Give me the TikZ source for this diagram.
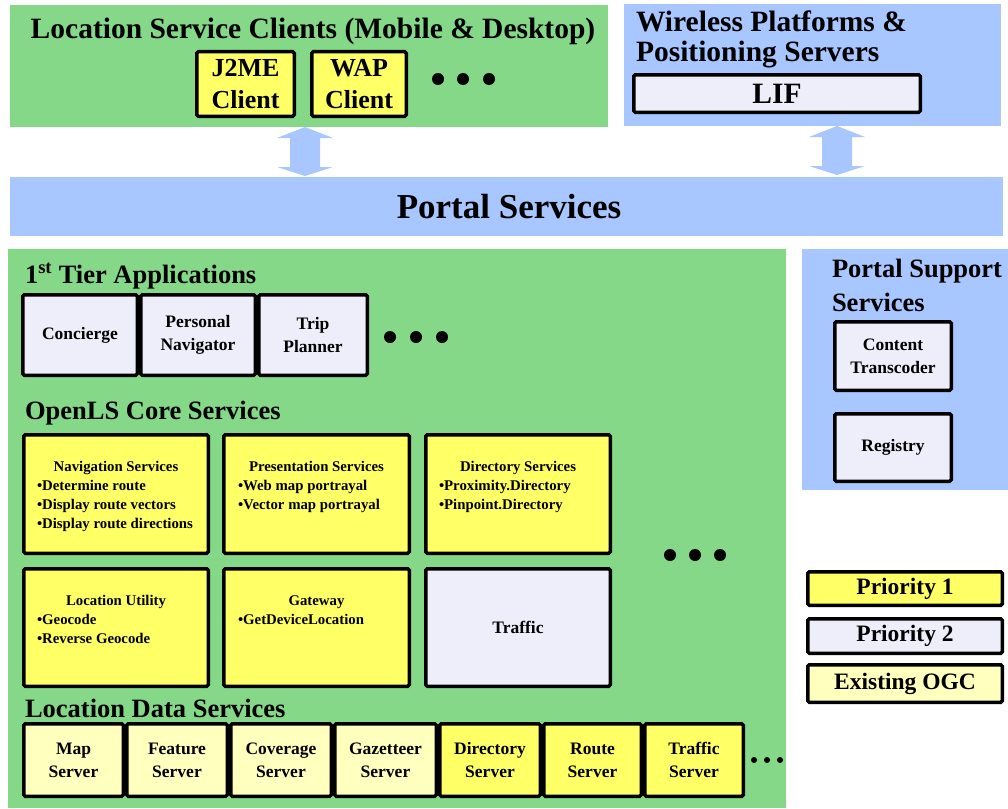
\documentclass[tikz,border=0pt]{standalone}
\usepackage{fontspec}
\setmainfont{Liberation Serif}
\definecolor{grn}{RGB}{132,216,136}
\definecolor{blu}{RGB}{168,198,255}
\definecolor{yel}{RGB}{255,255,102}
\definecolor{lav}{RGB}{238,238,250}
\definecolor{ogc}{RGB}{255,255,190}
\newcommand{\bx}[7]{\node[#1, minimum width={#4-#2-3.5}, minimum height={#5-#3-3.5}] (#6) at ({(#2+#4)/2},{(#3+#5)/2}) {#7};}
\newcommand{\dblarrow}[3]{\fill[blu] (#1,#2) -- (#1+28,#2+11) -- (#1+15,#2+11) -- (#1+15,#3-9) -- (#1+28,#3-9) -- (#1,#3) -- (#1-28,#3-9) -- (#1-15,#3-9) -- (#1-15,#2+11) -- (#1-28,#2+11) -- cycle;}
\begin{document}
\begin{tikzpicture}[x=1pt,y=-1pt,
  every node/.style={font=\bfseries, inner sep=0pt, outer sep=0pt, align=center},
  boxbase/.style={draw=black, line width=3.5pt, rounded corners=1.5pt, rectangle},
  pone/.style={boxbase, fill=yel},
  ptwo/.style={boxbase, fill=lav},
  pogc/.style={boxbase, fill=ogc},
  ftitle/.style={font=\bfseries\fontsize{29.5}{30}\selectfont},
  fhead/.style={font=\bfseries\fontsize{26.5}{33}\selectfont},
  fclient/.style={font=\bfseries\fontsize{26}{32}\selectfont},
  fbox/.style={font=\bfseries\fontsize{17.5}{23}\selectfont},
  fcore/.style={font=\bfseries\fontsize{14.8}{19}\selectfont},
  fleg/.style={font=\bfseries\fontsize{23.5}{26}\selectfont},
  dot/.style={fill=black, circle, minimum size=12pt},
  sdot/.style={fill=black, circle, minimum size=6pt},
]
\useasboundingbox (0,0) rectangle (1008,808);
% backgrounds
\fill[grn] (10,5) rectangle (608,127);
\fill[blu] (624,4) rectangle (1001,126);
\fill[blu] (10,177) rectangle (1003,236);
\fill[grn] (8,249) rectangle (786,808);
\fill[blu] (802,249) rectangle (1008,490);
% top clients
\node[ftitle, anchor=base] (clients) at (313,39) {Location Service Clients (Mobile \& Desktop)};
\bx{pone,fclient}{195}{50}{296}{118}{j2me}{J2ME\\Client}
\bx{pone,fclient}{310}{50}{408}{118}{wap}{WAP\\Client}
\node[dot] (cd1) at (438,79) {};
\node[dot] (cd2) at (463,79) {};
\node[dot] (cd3) at (489,79) {};
% wireless
\node[ftitle, anchor=base west] (wl1) at (636,32) {Wireless Platforms \&};
\node[ftitle, anchor=base west] (wl2) at (636,62) {Positioning Servers};
\bx{ptwo,ftitle}{632}{73}{922}{114}{lif}{LIF}
% arrows
\coordinate (a1t) at (305,127); \coordinate (a1b) at (305,176);
\coordinate (a2t) at (837,126); \coordinate (a2b) at (837,175);
\dblarrow{305}{127}{176}
\dblarrow{837}{126}{175}
% portal
\node[font=\bfseries\fontsize{35}{40}\selectfont] (portal) at (509,207) {Portal Services};
% tier apps
\node[fhead, anchor=base west] (tier) at (25,283) {1\textsuperscript{st} Tier Applications};
\bx{ptwo,fbox}{21}{293}{139}{377}{conc}{Concierge}
\bx{ptwo,fbox}{139}{293}{257}{377}{pnav}{Personal\\Navigator}
\bx{ptwo,fbox}{257}{293}{369}{377}{trip}{Trip\\Planner}
\node[dot] (td1) at (390,337) {};
\node[dot] (td2) at (416,337) {};
\node[dot] (td3) at (442,337) {};
% core
\node[fhead, anchor=base west] (core) at (25,419) {OpenLS Core Services};
\bx{pone}{22}{433}{210}{555}{nav}{}
\bx{pone}{222}{433}{411}{555}{pres}{}
\bx{pone}{424}{433}{612}{555}{dir}{}
\bx{pone}{22}{567}{210}{688}{locu}{}
\bx{pone}{222}{567}{411}{688}{gate}{}
\bx{ptwo,fbox}{424}{567}{612}{688}{traf}{Traffic}
\node[fcore, anchor=base] (navh) at (116,471) {Navigation Services};
\node[fcore, anchor=base west] (nav1) at (37,490) {•Determine route};
\node[fcore, anchor=base west] (nav2) at (37,509) {•Display route vectors};
\node[fcore, anchor=base west] (nav3) at (37,528) {•Display route directions};
\node[fcore, anchor=base] (presh) at (316.5,471) {Presentation Services};
\node[fcore, anchor=base west] (pres1) at (238,490) {•Web map portrayal};
\node[fcore, anchor=base west] (pres2) at (238,509) {•Vector map portrayal};
\node[fcore, anchor=base] (dirh) at (518,471) {Directory Services};
\node[fcore, anchor=base west] (dir1) at (439,490) {•Proximity.Directory};
\node[fcore, anchor=base west] (dir2) at (439,509) {•Pinpoint.Directory};
\node[fcore, anchor=base] (locuh) at (116,605) {Location Utility};
\node[fcore, anchor=base west] (locu1) at (37,624) {•Geocode};
\node[fcore, anchor=base west] (locu2) at (37,643) {•Reverse Geocode};
\node[fcore, anchor=base] (gateh) at (316.5,605) {Gateway};
\node[fcore, anchor=base west] (gate1) at (238,624) {•GetDeviceLocation};
\node[dot] (kd1) at (670,555) {};
\node[dot] (kd2) at (695,555) {};
\node[dot] (kd3) at (720,555) {};
% data services
\node[fhead, anchor=base west] (data) at (25,717) {Location Data Services};
\bx{pogc,fbox}{22}{722}{125}{798}{mapS}{Map\\Server}
\bx{pogc,fbox}{125}{722}{229}{798}{featS}{Feature\\Server}
\bx{pogc,fbox}{229}{722}{333}{798}{covS}{Coverage\\Server}
\bx{pogc,fbox}{333}{722}{438}{798}{gazS}{Gazetteer\\Server}
\bx{pone,fbox}{438}{722}{542}{798}{dirS}{Directory\\Server}
\bx{pone,fbox}{542}{722}{643}{798}{rouS}{Route\\Server}
\bx{pone,fbox}{643}{722}{745}{798}{trafS}{Traffic\\Server}
\node[sdot] (dd1) at (754,760) {};
\node[sdot] (dd2) at (767,760) {};
\node[sdot] (dd3) at (780,760) {};
% support
\node[fhead, anchor=base west] (sup1) at (832,277) {Portal Support};
\node[fhead, anchor=base west] (sup2) at (832,311) {Services};
\bx{ptwo,fbox}{833}{320}{953}{392}{trans}{Content\\Transcoder}
\bx{ptwo,fbox}{833}{412}{953}{483}{reg}{Registry}
% legend
\bx{pone,fleg}{806}{570}{1004}{607}{leg1}{Priority 1}
\bx{ptwo,fleg}{806}{617}{1004}{655}{leg2}{Priority 2}
\bx{pogc,fleg}{806}{663}{1004}{704}{leg3}{Existing OGC}
\end{tikzpicture}
\end{document}
